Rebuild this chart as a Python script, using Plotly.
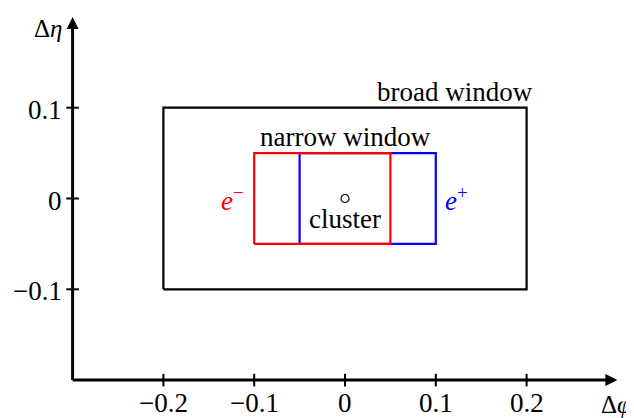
import plotly.graph_objects as go

# ---- data ----
x_ticks = [-0.2, -0.1, 0, 0.1, 0.2]
x_tick_labels = ["\u22120.2", "\u22120.1", "0", "0.1", "0.2"]
y_ticks = [-0.1, 0, 0.1]
y_tick_labels = ["\u22120.1", "0", "0.1"]
axis_x_range = [-0.3, 0.3]
axis_y_range = [-0.2, 0.2]

broad_phi = [-0.2, 0.2]
broad_eta = [-0.1, 0.1]
eminus_phi = [-0.1, 0.05]
eplus_phi = [-0.05, 0.1]
narrow_eta = [-0.05, 0.05]
cluster_pos = [0.0, 0.0]

FONT = "Liberation Serif, Times New Roman, serif"
FS = 27


def rect(xr, yr):
    return ([xr[0], xr[1], xr[1], xr[0], xr[0]],
            [yr[0], yr[0], yr[1], yr[1], yr[0]])


fig = go.Figure()

# broad window
bx, by = rect(broad_phi, broad_eta)
fig.add_trace(go.Scatter(x=bx, y=by, mode="lines",
                         line=dict(color="black", width=2.2), hoverinfo="skip"))
# e+ (blue) first, then e- (red) on top
px_, py_ = rect(eplus_phi, narrow_eta)
fig.add_trace(go.Scatter(x=px_, y=py_, mode="lines",
                         line=dict(color="#0000ff", width=2.2), hoverinfo="skip"))
mx, my = rect(eminus_phi, narrow_eta)
fig.add_trace(go.Scatter(x=mx, y=my, mode="lines",
                         line=dict(color="#ff0000", width=2.2), hoverinfo="skip"))
# cluster marker
fig.add_trace(go.Scatter(x=[cluster_pos[0]], y=[cluster_pos[1]], mode="markers",
                         marker=dict(symbol="circle-open", size=8,
                                     color="black", line=dict(width=1.2)),
                         hoverinfo="skip"))

# axis lines
fig.add_trace(go.Scatter(x=[axis_x_range[0], axis_x_range[1] - 0.008],
                         y=[axis_y_range[0], axis_y_range[0]], mode="lines",
                         line=dict(color="black", width=3), hoverinfo="skip"))
fig.add_trace(go.Scatter(x=[axis_x_range[0], axis_x_range[0]],
                         y=[axis_y_range[0], axis_y_range[1] - 0.008], mode="lines",
                         line=dict(color="black", width=3), hoverinfo="skip"))
# arrow heads
fig.add_annotation(x=axis_x_range[1], y=axis_y_range[0], ax=axis_x_range[1] - 0.02,
                   ay=axis_y_range[0], axref="x", ayref="y", xref="x", yref="y",
                   text="", showarrow=True, arrowhead=2, arrowsize=1.2,
                   arrowwidth=2, arrowcolor="black")
fig.add_annotation(x=axis_x_range[0], y=axis_y_range[1], ax=axis_x_range[0],
                   ay=axis_y_range[1] - 0.02, axref="x", ayref="y", xref="x", yref="y",
                   text="", showarrow=True, arrowhead=2, arrowsize=1.2,
                   arrowwidth=2, arrowcolor="black")

# ticks
fig.add_trace(go.Scatter(x=x_ticks, y=[axis_y_range[0]] * len(x_ticks), mode="markers",
                         marker=dict(symbol="line-ns", size=9,
                                     line=dict(color="black", width=2)),
                         hoverinfo="skip"))
fig.add_trace(go.Scatter(x=[axis_x_range[0]] * len(y_ticks), y=y_ticks, mode="markers",
                         marker=dict(symbol="line-ew", size=9,
                                     line=dict(color="black", width=2)),
                         hoverinfo="skip"))

# tick labels
for xv, lab in zip(x_ticks, x_tick_labels):
    fig.add_annotation(x=xv, y=axis_y_range[0], text=lab, showarrow=False,
                       yshift=-23, font=dict(family=FONT, size=FS, color="black"))
for yv, lab in zip(y_ticks, y_tick_labels):
    fig.add_annotation(x=axis_x_range[0], y=yv, text=lab, showarrow=False,
                       xanchor="right", xshift=-9, yshift=-2,
                       font=dict(family=FONT, size=FS, color="black"))

# axis titles
fig.add_annotation(x=axis_x_range[1], y=axis_y_range[0], text="\u0394<i>\u03c6</i>",
                   showarrow=False, xanchor="right", xshift=15, yshift=-24,
                   borderpad=0, font=dict(family=FONT, size=25, color="black"))
fig.add_annotation(x=axis_x_range[0], y=axis_y_range[1], text="\u0394<i>\u03b7</i>",
                   showarrow=False, xanchor="right", yanchor="top", xshift=-10, yshift=3,
                   borderpad=0, font=dict(family=FONT, size=25, color="black"))

# labels
fig.add_annotation(x=broad_phi[1], y=broad_eta[1], text="broad window", showarrow=False,
                   xanchor="right", yanchor="bottom", xshift=8, yshift=-1,
                   font=dict(family=FONT, size=FS, color="black"))
fig.add_annotation(x=0, y=narrow_eta[1], text="narrow window", showarrow=False,
                   yanchor="bottom", xshift=0, yshift=-1,
                   font=dict(family=FONT, size=FS, color="black"))
fig.add_annotation(x=cluster_pos[0], y=cluster_pos[1], text="cluster", showarrow=False,
                   yshift=-20, font=dict(family=FONT, size=FS, color="black"))
fig.add_annotation(x=eminus_phi[0], y=0, text="<i>e</i><sup>\u2212</sup>", showarrow=False,
                   xanchor="right", xshift=-8, yshift=0,
                   font=dict(family=FONT, size=FS, color="#ff0000"))
fig.add_annotation(x=eplus_phi[1], y=0, text="<i>e</i><sup>+</sup>", showarrow=False,
                   xanchor="left", xshift=7, yshift=0,
                   font=dict(family=FONT, size=FS, color="#0000ff"))

# page body has an 8px default margin: offset the figure accordingly
OFF = 8
scale = 908.0
x0px, y0px = 345.0 - OFF, 198.5 - OFF
W, H = 634 - OFF, 418 - OFF
fig.update_layout(
    width=W, height=H,
    margin=dict(l=0, r=0, t=0, b=0),
    paper_bgcolor="white", plot_bgcolor="white",
    showlegend=False,
    xaxis=dict(range=[-x0px / scale, (W - x0px) / scale], visible=False, fixedrange=True),
    yaxis=dict(range=[(y0px - H) / scale, y0px / scale], visible=False, fixedrange=True),
)

fig.write_html("out.html")
